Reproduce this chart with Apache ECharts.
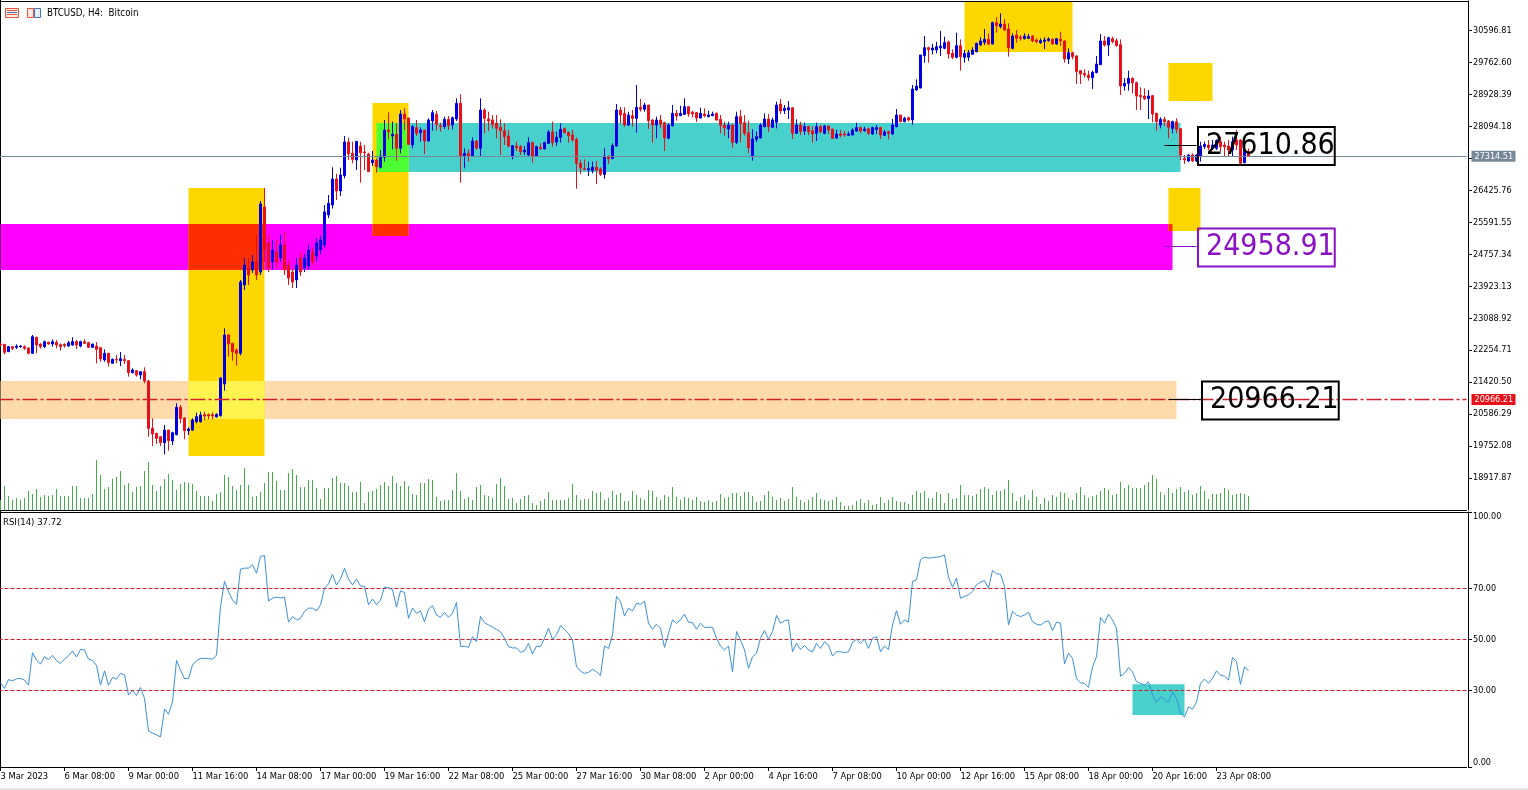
<!DOCTYPE html>
<html><head><meta charset="utf-8"><title>BTCUSD, H4</title>
<style>html,body{margin:0;padding:0;background:#fff}#c{width:1528px;height:790px}</style>
<script src="https://cdn.jsdelivr.net/npm/echarts@6/dist/echarts.min.js"></script></head>
<body><div id="c"></div><script>
const timeLabels=['3 Mar 2023','6 Mar 08:00','9 Mar 00:00','11 Mar 16:00','14 Mar 08:00','17 Mar 00:00','19 Mar 16:00','22 Mar 08:00','25 Mar 00:00','27 Mar 16:00','30 Mar 08:00','2 Apr 00:00','4 Apr 16:00','7 Apr 08:00','10 Apr 00:00','12 Apr 16:00','15 Apr 08:00','18 Apr 00:00','20 Apr 16:00','23 Apr 08:00'];
const priceTicks=[30596.81,29762.60,28928.39,28094.18,27259.97,26425.76,25591.55,24757.34,23923.13,23088.92,22254.71,21420.50,20586.29,19752.08,18917.87];
const rsiTicks=[100,70,50,30,0];
const rsiLevels=[70,50,30];
// open, close, low, high
const ohlc=[
[22415,22390,22360,22430],[22406,22197,22145,22406],[22214,22345,22206,22362],[22345,22301,22258,22362],[22328,22362,22284,22406],[22345,22362,22310,22388],[22345,22301,22258,22380],[22310,22171,22145,22328],[22171,22606,22154,22650],[22589,22388,22171,22606],
[22415,22345,22293,22432],[22345,22476,22310,22502],[22458,22415,22397,22476],[22415,22476,22345,22536],[22458,22388,22301,22519],[22397,22345,22241,22432],[22406,22371,22319,22432],[22362,22449,22345,22493],[22388,22476,22371,22589],[22476,22388,22284,22519],
[22362,22476,22328,22502],[22476,22432,22415,22536],[22449,22328,22310,22476],[22328,22415,22310,22415],[22362,22275,21910,22467],[22319,22023,21953,22328],[21997,22171,21953,22275],[22171,21927,21823,22188],[21910,22014,21893,22040],[22014,21997,21910,22127],
[21980,22032,21840,22206],[22014,21980,21893,22127],[21980,21666,21562,21997],[21666,21736,21649,21780],[21719,21605,21562,21736],[21605,21692,21492,21692],[21692,21449,21388,21806],[21449,20213,19996,21475],[20213,20066,19752,20475],[20083,19952,19805,20100],
[19996,19840,19752,19996],[19840,20170,19535,20300],[20170,19892,19631,20170],[19883,20100,19778,20127],[20048,20762,20031,20866],[20762,20466,20344,20823],[20483,20153,19926,20501],[20153,20196,20040,20240],[20170,20431,20144,20475],[20388,20518,20344,20622],
[20388,20562,20361,20649],[20570,20535,20431,20649],[20570,20535,20448,20605],[20570,20535,20448,20631],[20509,20579,20492,20605],[20544,21527,20518,21545],[21371,22650,21197,22824],[22650,22415,22084,22676],[22432,22214,21980,22449],[22258,22171,21849,22301],
[22171,24033,22120,24085],[23954,24476,23824,24659],[24398,24215,23954,24659],[24346,24555,24268,24737],[24555,24215,24085,25260],[24294,26069,24215,26147],[25990,24868,24555,26486],[25051,24398,24294,25260],[24555,24868,24346,25129],[24816,24555,24398,25129],
[24659,24999,24555,25260],[24999,24346,24215,25338],[24477,24137,23954,24607],[24294,24033,23876,24398],[24085,24477,23876,24659],[24659,24294,24189,24816],[24398,24659,24294,24764],[24450,24868,24346,24999],[24816,24555,24477,24920],[24712,25051,24555,25181],
[24868,25129,24764,25233],[25000,25860,24920,26042],[25782,26086,25700,26304],[26042,26721,25950,27026],[26721,26408,26173,26852],[26408,26826,26277,27017],[26808,27687,26738,27843],[27687,27374,27217,27800],[27391,27234,27130,27696],[27217,27704,26956,27704],
[27582,27408,26625,27696],[27426,27408,26956,27609],[27374,26913,26913,27408],[27147,27217,27060,27452],[27217,27043,26886,27261],[27026,27321,27000,27478],[27287,28000,27174,28261],[28000,27957,27756,28461],[27843,27887,27495,28218],[27887,27522,27200,28174],
[27522,28418,27391,28522],[28418,28287,28000,28565],[28313,27626,27609,28313],[27609,28087,27522,28131],[28061,27913,27843,28261],[27930,28000,27696,28069],[28000,27713,27374,28000],[27713,28261,27696,28305],[28235,28452,27983,28522],[28409,28148,27983,28496],
[28113,28087,27957,28191],[28087,28278,28026,28348],[28278,28113,28000,28365],[28131,28322,28017,28348],[28287,28696,28235,28827],[28696,27321,26625,28931],[27321,27391,27000,27522],[27391,27321,27174,27495],[27321,27713,27321,27809],[27713,27530,27478,27739],
[27522,28522,27321,28827],[28522,28305,27913,28565],[28287,28235,27974,28478],[28261,28148,28043,28391],[28174,28043,27783,28391],[28069,27983,27348,28278],[27983,27826,27609,28174],[27843,27583,27548,28000],[27304,27591,27234,27609],[27583,27539,27452,27696],
[27565,27435,27348,27609],[27426,27478,27348,27583],[27348,27669,27321,27809],[27669,27321,27147,27696],[27321,27565,27304,27591],[27548,27513,27478,27652],[27504,27669,27495,27696],[27652,27948,27635,28000],[27948,27669,27565,28218],[27687,27809,27583,27957],
[27809,28017,27669,28174],[28035,27930,27913,28061],[27939,27852,27669,27957],[27870,27739,27696,28000],[27756,27130,26469,27809],[27130,27008,26852,27234],[26991,26974,26939,27234],[26956,26991,26799,27174],[26939,27026,26869,27174],[27026,26956,26591,27191],
[26982,26843,26799,27026],[26843,27321,26730,27522],[27304,27252,27113,27348],[27252,27591,27243,27652],[27583,28522,27565,28679],[28522,28391,28174,28600],[28435,28130,28087,28592],[28130,28391,28104,28478],[28374,28305,28087,28522],[28305,28592,27930,29175],
[28592,28539,28479,28809],[28539,28652,28479,28713],[28652,28244,28026,28652],[28261,28130,27669,28287],[28130,28261,27783,28348],[28261,28157,28044,28392],[28191,27791,27452,28218],[27783,28130,27756,28174],[28113,28435,28087,28652],[28435,28365,28244,28522],
[28374,28435,28365,28635],[28409,28609,28392,28826],[28609,28418,28348,28609],[28461,28418,28331,28505],[28452,28313,28209,28470],[28313,28435,28305,28583],[28418,28374,28331,28566],[28348,28392,28331,28505],[28374,28418,28365,28479],[28435,28261,28244,28461],
[28278,28122,27913,28392],[28130,28052,27852,28218],[28026,28130,27783,28218],[28130,27678,27539,28148],[27678,28348,27635,28479],[28348,28174,27678,28522],[28191,27913,27852,28392],[27930,27539,27391,28244],[27304,27765,27200,28017],[27756,27826,27687,27957],
[27791,28130,27782,28174],[28087,28287,28070,28435],[28287,28087,27948,28418],[28070,28261,28052,28322],[28200,28652,28044,28740],[28679,28496,28418,28809],[28505,28566,28418,28652],[28522,28583,28287,28757],[28583,27913,27765,28583],[27913,28130,27896,28278],
[28130,27965,27870,28218],[27974,28087,27870,28191],[28087,27957,27870,28113],[27983,27896,27669,28104],[27913,28087,27713,28191],[28087,27957,27913,28130],[27913,28104,27887,28130],[28104,28000,27896,28104],[28026,27783,27765,28026],[27791,27896,27765,28000],
[27896,27861,27809,28000],[27896,27870,27826,27974],[27861,27896,27843,27957],[27870,28000,27861,28044],[27974,28061,27957,28191],[28061,27974,27913,28087],[27983,28026,27957,28087],[28035,27913,27870,28061],[27896,28061,27878,28087],[28017,28061,27896,28130],
[28061,27870,27765,28087],[27861,27948,27843,28000],[27957,27913,27756,27983],[27896,28130,27878,28287],[28087,28392,28070,28548],[28392,28218,28200,28392],[28218,28305,28200,28348],[28322,28261,28218,28348],[28261,29070,28130,29175],[29044,29148,29027,29322],
[29096,29958,29088,29958],[29940,30149,29757,30453],[30149,30097,29757,30175],[30088,30140,29975,30245],[30088,30175,30001,30305],[30140,30192,29931,30584],[30131,30279,30105,30436],[30297,29984,29862,30332],[30001,29897,29853,30105],[29897,30201,29870,30540],
[30201,29914,29549,30366],[29897,30001,29757,30088],[29897,30018,29801,30088],[29975,30088,29957,30158],[30044,30262,30027,30279],[30218,30323,30201,30419],[30288,30366,30218,30636],[30366,30245,30218,30523],[30245,30801,30236,30828],[30801,30723,30540,30941],
[30697,30767,30653,31045],[30767,30610,30584,30888],[30636,30149,29914,30784],[30131,30453,30105,30523],[30480,30393,30279,30610],[30419,30393,30332,30480],[30384,30453,30366,30523],[30393,30436,30375,30506],[30453,30323,30288,30480],[30349,30306,30262,30393],
[30279,30332,30245,30393],[30314,30349,30114,30419],[30332,30375,30306,30419],[30366,30245,30218,30393],[30245,30384,30218,30393],[30366,30332,30201,30566],[30323,29853,29757,30349],[29853,30018,29723,30131],[30018,29914,29844,30044],[29931,29523,29201,29957],
[29549,29462,29201,29566],[29479,29436,29366,29583],[29436,29366,29288,29549],[29366,29505,29070,29549],[29497,29723,29479,29931],[29705,30323,29697,30506],[30323,30218,30175,30453],[30218,30410,29931,30436],[30384,30306,30262,30436],[30332,30201,30175,30393],
[30227,29148,28914,30366],[29148,29218,29027,29349],[29218,29349,29027,29549],[29349,29235,28957,29375],[29235,28887,28522,29262],[28905,28870,28522,29114],[28887,28818,28783,29088],[28818,28887,28287,29044],[28896,28418,28200,28914],[28435,28218,27983,28452],
[28131,28278,28044,28331],[28278,28218,28104,28348],[28235,28070,27783,28261],[28044,28218,27913,28244],[28218,28017,27913,28305],[28035,27348,27217,28052],[27261,27217,27113,27348],[27191,27348,27165,27374],[27348,27191,27165,27391],[27191,27348,27165,27374],
[27322,27582,27174,27695],[27565,27626,27504,27695],[27608,27539,27478,27739],[27521,27608,27478,27739],[27521,27721,27478,27756],[27695,27565,27435,27826],[27608,27565,27304,27695],[27582,27478,27304,27739],[27478,27695,27304,27826],[27739,27608,27478,28000],
[27739,27130,27113,27756],[27147,27478,27130,27521],[27435,27314.51,27304,27521]
];
const volumes=[10,24,14,10,12,10,12,19,16,21,13,15,14,15,21,14,14,14,24,24,12,12,12,16,50,35,21,23,31,33,39,25,27,18,23,24,39,48,25,19,24,31,36,30,20,26,28,27,26,19,14,14,14,9,16,18,35,33,24,20,25,42,25,13,14,18,27,38,38,29,20,20,37,41,35,23,23,30,30,22,11,22,22,32,34,27,27,24,18,18,28,7,18,19,21,25,28,24,34,27,24,29,24,16,15,27,27,31,30,13,9,10,10,20,37,19,11,13,10,23,25,15,14,12,26,32,24,11,12,7,11,14,15,7,5,9,11,18,10,10,10,10,12,26,15,10,11,11,19,17,18,10,12,19,15,17,9,9,19,15,12,10,20,19,13,10,15,13,23,13,10,13,12,10,13,9,8,10,8,9,16,12,13,17,17,14,18,18,14,8,9,15,19,13,10,12,9,11,23,13,10,8,10,13,17,11,10,9,10,13,8,4,4,5,9,11,7,10,5,6,13,7,10,13,9,8,8,6,15,19,17,19,12,12,18,16,7,17,11,12,25,15,15,14,16,21,23,21,15,19,19,21,30,17,9,13,15,10,20,13,6,12,9,15,13,18,17,12,10,17,23,15,12,14,15,19,22,20,15,16,28,22,25,22,22,22,25,28,35,31,18,15,22,17,21,23,18,20,15,17,24,19,11,16,16,17,22,20,15,16,17,16,14];
const rsi=[33.1,30.8,34.3,33.8,34.6,34.7,34.1,32.1,44.8,41.9,40.4,43.2,42.2,43.8,41.7,40.6,42.3,43.6,45.5,43.1,46.1,45.9,42.3,41.8,39.8,32.1,37.7,32.1,35.1,34.5,36.7,36.2,28.2,30,28,31.2,26.9,14.1,13.3,12.6,11.8,22.8,20.7,25.5,41.8,38,34.7,34.7,40,41.7,42.6,42.6,42.6,42.2,43.9,62.9,72.8,68.8,65.5,63.8,77.6,78,78,79.3,76,82.6,82.9,65.1,66.2,66.6,66.3,66.6,56.8,59,57.7,58.3,61,62.3,62.3,61.2,63.6,70.1,71.8,75.6,71.3,73.7,77.9,73.7,71.4,73.7,71,70.8,63.6,65.9,63.6,65.5,70.5,70.4,69.5,62.7,69.1,68.4,58.3,62.3,60.3,61.2,57,61.9,63.3,59.6,58.7,60.6,58.7,60.3,64.5,47.2,47.4,46.9,51.1,49.1,59,56.6,55.7,54.8,54,53,50.5,47.2,46.7,46.7,45,45.5,48.5,44.3,47.4,47.2,50.5,54.4,50.1,51.8,55.4,54,52.2,49.8,39.3,37.6,36.7,37.1,38.3,37.3,35.9,47.4,46.5,51.8,66.9,64.9,59.2,62.3,61.2,64.2,63.8,65,56.4,54,56,54.4,46.9,52.4,57.7,56.4,57.7,59.9,56.8,56.6,54,56.4,54.7,54.8,54.8,50.5,47.4,45.9,47.4,37.3,53.1,49.8,45.9,38.7,43.2,44.6,50.5,53.5,50.1,53.1,59.4,56.4,57.3,57.7,45.2,48.5,46.1,47.7,45.9,45.1,48.5,46.5,49.1,47.8,43.5,45.2,45.2,44.8,45.2,48.8,50.1,48.5,50.1,46.5,50.5,51.1,45.2,47.4,46.1,55.7,61.3,56,57.7,56.8,72.8,73.4,81.3,82.3,81.9,82.1,82.3,82.5,83.2,74.5,70.5,74.1,66.1,66.9,67.5,68.8,71.4,72.5,73.1,70.1,77.1,75.8,75.6,70.8,55.7,61,59.6,59,59.6,60.7,57,56,55.6,56.8,57.3,53.5,56.8,56.4,40.4,44.6,42.6,34.7,33,32.8,31.2,39.3,43.2,58.7,56.4,59.9,57.7,54.4,35.6,36.7,39,37.3,33.4,32.8,32.1,33.4,28.2,25.3,27.5,26.6,25.3,29.5,26.9,21,19.6,23.6,22.7,25.5,32.8,34.5,32.8,34.7,37.7,36,35.6,34.1,43,41.3,32.4,39.3,37.72];
const lastPrice=27314.51;
const supportLevel=20966.21;
const noteValues=[27610.86,24958.91,20966.21];
// from-bar, to-bar, low, high
const zoneRanges=[[0,294,20457,21449],[0,293,24346,25546],[94,295,26904,28183],[47,66,19491,26486],[93,102,25233,28705],[241,268,30036,31341],[292,303,28757,29749],[292,300,25364,26486],[47,66,20457,21449],[47,66,24346,25546],[93,102,25233,25546],[94,102,26904,28183],[292,293,25364,25546]];
const zoneColors=['#FFDBAC','#FF00FF','#48D1CC','#FFD700','#FFD700','#FFD700','#FFD700','#FFD700','#FFF350','#FF2E00','#FF2E00','#4CFF33','#FF2E00'];
const rsiZone=[283,296,20.4,32.5];

const font='"DejaVu Sans Condensed","DejaVu Sans",sans-serif';
const N=367;
const categories=Array.from({length:N},(_,i)=>i%16===0&&timeLabels[i/16]?timeLabels[i/16]:'');
const hasLabel=(i,v)=>v!=='';
const noteLine=(idx0,idx1,val,col,dist)=>[{xAxis:idx0,yAxis:val,lineStyle:{color:col,width:1,type:'solid'},
  label:{show:true,position:'end',distance:dist,offset:[0,1],formatter:val.toFixed(2),color:col,fontFamily:font,fontSize:30,lineHeight:30,
  borderColor:col,borderWidth:1,padding:[4,0,4,8],backgroundColor:'transparent'}},{xAxis:idx1,yAxis:val}];
const tag=(bg)=>({show:true,position:'end',distance:5,formatter:p=>p.value.toFixed(2),color:'#fff',fontFamily:font,fontSize:9,backgroundColor:bg,padding:[1,3,1,3],width:38,align:'left'});

const chart=echarts.init(document.getElementById('c'),null,{renderer:'canvas'});
chart.setOption({
 animation:false,backgroundColor:'#fff',
 title:[
  {text:'BTCUSD, H4:  Bitcoin',left:42,top:3,textStyle:{fontFamily:font,fontSize:9.7,fontWeight:'normal',color:'#000'}},
  {text:'RSI(14) 37.72',left:-2,top:513,textStyle:{fontFamily:font,fontSize:9.5,fontWeight:'normal',color:'#000'}}
 ],
 grid:[{left:-1.5,top:1,width:1468,height:509,outerBoundsMode:'none'},{left:-1.5,top:512,width:1468,height:255,outerBoundsMode:'none'}],
 xAxis:[
  {type:'category',gridIndex:0,data:categories,axisLine:{lineStyle:{color:'#000',width:1},onZero:false},axisTick:{show:false},axisLabel:{show:false},splitLine:{show:false}},
  {type:'category',gridIndex:1,data:categories,axisLine:{lineStyle:{color:'#000',width:1},onZero:false},
   axisTick:{show:true,alignWithLabel:true,interval:hasLabel,length:4,lineStyle:{color:'#000'}},
   axisLabel:{show:true,interval:hasLabel,align:'left',margin:5,hideOverlap:false,color:'#000',fontFamily:font,fontSize:9.3},splitLine:{show:false}}
 ],
 yAxis:[
  {type:'value',gridIndex:0,position:'right',offset:1.5,min:18082,max:31367,axisLine:{show:true,lineStyle:{color:'#000'},onZero:false},
   axisTick:{show:true,length:4,lineStyle:{color:'#000'},customValues:priceTicks},splitLine:{show:false},
   axisLabel:{show:true,margin:5,color:'#000',fontFamily:font,fontSize:9,customValues:priceTicks,formatter:v=>v.toFixed(2)}},
  {type:'value',gridIndex:0,position:'left',min:0,max:509,show:false,splitLine:{show:false}},
  {type:'value',gridIndex:1,position:'right',offset:1.5,min:0,max:100,axisLine:{show:true,lineStyle:{color:'#000'},onZero:false},
   axisTick:{show:true,length:4,lineStyle:{color:'#000'},customValues:rsiTicks},splitLine:{show:false},
   axisLabel:{show:true,margin:5,color:'#000',fontFamily:font,fontSize:9,customValues:rsiTicks,verticalAlignMinLabel:'top',verticalAlignMaxLabel:'bottom',formatter:v=>v.toFixed(2)}}
 ],
 series:[
  {name:'zones',type:'line',xAxisIndex:0,yAxisIndex:0,data:[],z:1,silent:true,
   markArea:{silent:true,z:1,data:zoneRanges.map((r,k)=>[{xAxis:r[0],yAxis:r[2],itemStyle:{color:zoneColors[k],opacity:1}},{xAxis:r[1],yAxis:r[3]}])}},
  {name:'Volume',type:'bar',xAxisIndex:0,yAxisIndex:1,data:volumes,barWidth:1,itemStyle:{color:'#45AE4B'},silent:true,z:2},
  {name:'BTCUSD',type:'candlestick',xAxisIndex:0,yAxisIndex:0,data:ohlc,barWidth:2,silent:true,z:3,
   itemStyle:{color:'#0000E0',color0:'#E8101A',borderColor:'#0000E0',borderColor0:'#E8101A',borderWidth:1}},
  {name:'last price',type:'line',xAxisIndex:0,yAxisIndex:0,data:[],z:4,silent:true,
   markLine:{silent:true,symbol:'none',z:4,lineStyle:{color:'#778899',width:1,type:'solid'},data:[{yAxis:lastPrice,label:tag('#778899')}]}},
  {name:'support',type:'line',xAxisIndex:0,yAxisIndex:0,data:[],z:4,silent:true,
   markLine:{silent:true,symbol:'none',z:4,lineStyle:{color:'#D0202A',width:1.3,type:[15,3,3,3]},data:[{yAxis:supportLevel,label:tag('#E8101A')}]}},
  {name:'notes',type:'line',xAxisIndex:0,yAxisIndex:0,data:[],z:5,silent:true,
   markLine:{silent:true,symbol:'none',z:5,data:[
    noteLine(291,299,noteValues[0],'#000',1.5),
    noteLine(291,299,noteValues[1],'#8A12C4',1.5),
    noteLine(292,300,noteValues[2],'#000',1.5)
   ]}},
  {name:'RSI(14)',type:'line',xAxisIndex:1,yAxisIndex:2,data:rsi,symbol:'none',lineStyle:{color:'#3B8FD6',width:1},silent:true,z:3,
   markArea:{silent:true,z:1,data:[[{xAxis:rsiZone[0],yAxis:rsiZone[2],itemStyle:{color:'#48D1CC',opacity:1}},{xAxis:rsiZone[1],yAxis:rsiZone[3]}]]},
   markLine:{silent:true,symbol:'none',z:2,label:{show:false},lineStyle:{color:'#CC1F28',width:1,type:[4,2]},data:rsiLevels.map(v=>({yAxis:v}))}}
 ],
 graphic:[
  {type:'rect',shape:{x:0,y:1,width:1468,height:1},style:{fill:'#000'},silent:true},
  {type:'rect',shape:{x:0,y:0,width:1,height:768},style:{fill:'#000'},silent:true},
  {type:'rect',shape:{x:0,y:512,width:1468,height:1},style:{fill:'#000'},silent:true},
  {type:'rect',shape:{x:0,y:788,width:1528,height:2},style:{fill:'#e4e4e4'},silent:true},
  {type:'group',left:5,top:8,silent:true,children:[
   {type:'rect',shape:{x:0.5,y:0.5,width:13,height:9},style:{fill:'#FBE9E4',stroke:'#E0563F'}},
   {type:'rect',shape:{x:2,y:2,width:10,height:1},style:{fill:'#E0563F'}},
   {type:'rect',shape:{x:2,y:4,width:10,height:1},style:{fill:'#4472C4'}},
   {type:'rect',shape:{x:2,y:6,width:10,height:1},style:{fill:'#E0563F'}},
   {type:'rect',shape:{x:22.5,y:0.5,width:6,height:9},style:{fill:'#FBE9E4',stroke:'#E0563F'}},
   {type:'rect',shape:{x:29.5,y:0.5,width:6,height:9},style:{fill:'#E4EEFB',stroke:'#4472C4'}}
  ]}
 ]
});
</script></body></html>
